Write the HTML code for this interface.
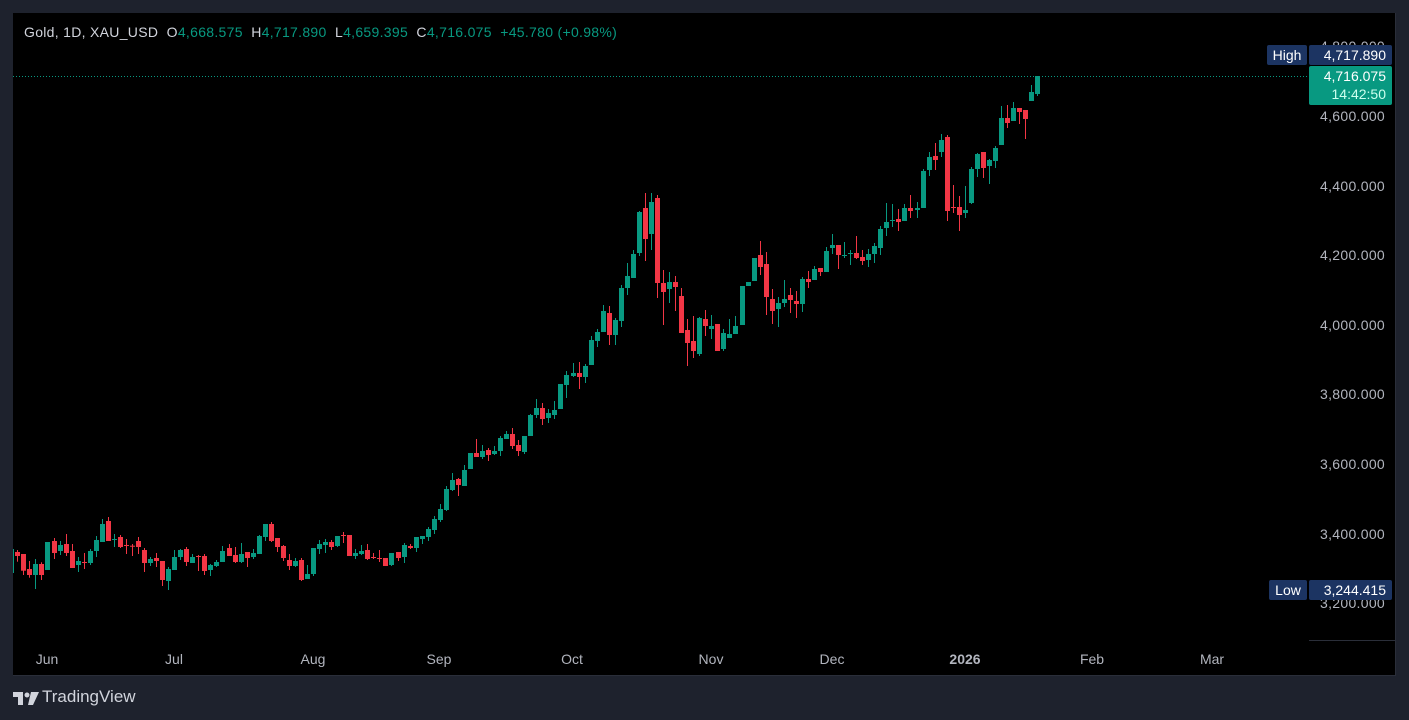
<!DOCTYPE html>
<html><head><meta charset="utf-8">
<style>
html,body{margin:0;padding:0;background:#1e222d;width:1409px;height:720px;overflow:hidden;font-family:"Liberation Sans",sans-serif}
#chart{position:absolute;left:13px;top:13px;width:1382px;height:662px;background:#000;border:1px solid #2a2e39;border-top:none;border-left:none}
.t{position:absolute;white-space:nowrap}
.pl{position:absolute;right:24px;color:#b2b5be;font-size:14px;line-height:14px;letter-spacing:0.3px}
.tl{position:absolute;top:651px;color:#b2b5be;font-size:14px;transform:translateX(-50%)}
</style></head><body>
<div id="chart"></div>
<svg id="s" width="1409" height="720" style="position:absolute;left:0;top:0"></svg>
<div class="t" style="left:24px;top:24px;font-size:14px;letter-spacing:0.3px;color:#d1d4dc">Gold, 1D, XAU_USD&nbsp; O<span style="color:#089981">4,668.575</span>&nbsp; H<span style="color:#089981">4,717.890</span>&nbsp; L<span style="color:#089981">4,659.395</span>&nbsp; C<span style="color:#089981">4,716.075</span>&nbsp; <span style="color:#089981">+45.780 (+0.98%)</span></div>
<div class="pl" style="top:39px">4,800.000</div>
<div class="pl" style="top:109px">4,600.000</div>
<div class="pl" style="top:179px">4,400.000</div>
<div class="pl" style="top:248px">4,200.000</div>
<div class="pl" style="top:318px">4,000.000</div>
<div class="pl" style="top:387px">3,800.000</div>
<div class="pl" style="top:457px">3,600.000</div>
<div class="pl" style="top:527px">3,400.000</div>
<div class="pl" style="top:596px">3,200.000</div>
<div class="t" style="left:1267px;top:45px;width:40px;height:20px;background:#1c3462;color:#fff;font-size:14px;line-height:20px;text-align:center;border-radius:2px">High</div>
<div class="t" style="left:1309px;top:45px;width:83px;height:20px;background:#1c3462;color:#fff;font-size:14px;line-height:20px;text-align:right;box-sizing:border-box;padding-right:6px;border-radius:2px">4,717.890</div>
<div class="t" style="left:1309px;top:66px;width:83px;height:39px;background:#089981;color:#fff;font-size:14px;line-height:18px;text-align:right;box-sizing:border-box;padding:1px 6px 0 0;border-radius:2px">4,716.075<br><span style="color:#cfe">14:42:50</span></div>
<div class="t" style="left:1269px;top:580px;width:38px;height:20px;background:#1c3462;color:#fff;font-size:14px;line-height:20px;text-align:center;border-radius:2px">Low</div>
<div class="t" style="left:1309px;top:580px;width:83px;height:20px;background:#1c3462;color:#fff;font-size:14px;line-height:20px;text-align:right;box-sizing:border-box;padding-right:6px;border-radius:2px">3,244.415</div>
<div class="tl" style="left:47px">Jun</div>
<div class="tl" style="left:174px">Jul</div>
<div class="tl" style="left:313px">Aug</div>
<div class="tl" style="left:439px">Sep</div>
<div class="tl" style="left:572px">Oct</div>
<div class="tl" style="left:711px">Nov</div>
<div class="tl" style="left:832px">Dec</div>
<div class="tl" style="left:965px;font-weight:bold">2026</div>
<div class="tl" style="left:1092px">Feb</div>
<div class="tl" style="left:1212px">Mar</div>
<div class="t" style="left:42px;top:687px;font-size:17px;color:#d1d4dc">TradingView</div>
<script>
var A=[[456,468,450,485,0],[462,512,462,525,0],[507,525,483,533,0],[492,525,477,567,1],[492,525,487,540,0],[426,510,426,510,1],[423,459,414,477,0],[435,453,423,465,1],[432,459,402,468,0],[453,504,432,504,0],[483,495,471,516,1],[486,489,459,507,0],[453,489,447,495,1],[420,453,408,471,1],[372,426,357,426,1],[363,423,351,423,0],[417,420,402,441,1],[411,441,405,444,0],[435,438,417,462,0],[437,440,432,468,0],[423,441,411,462,0],[450,489,444,516,0],[477,489,471,498,1],[474,483,459,501,0],[483,540,483,558,0],[507,543,501,570,1],[471,510,450,510,1],[450,471,447,480,1],[447,486,441,498,0],[471,489,462,489,1],[468,471,465,513,0],[468,513,462,525,0],[495,510,492,528,1],[486,498,480,501,1],[453,486,438,486,1],[444,468,432,468,0],[465,486,441,489,0],[462,486,429,489,1],[456,474,456,501,0],[459,471,447,477,1],[408,462,405,462,1],[372,411,372,423,1],[372,423,366,426,0],[414,441,414,456,0],[438,474,435,483,0],[480,498,462,510,0],[483,498,474,501,1],[480,540,474,543,0],[522,537,495,537,1],[444,522,444,528,1],[432,447,420,462,1],[426,435,417,459,1],[426,441,420,450,0],[408,438,408,441,1],[405,408,396,429,0],[405,468,405,468,0],[459,468,447,477,1],[453,462,435,465,1],[450,477,432,480,0],[471,474,459,477,0],[474,476,450,486,0],[474,498,474,498,0],[459,495,459,498,1],[456,474,456,483,0],[435,471,429,489,1],[438,444,432,447,0],[411,444,411,456,1],[408,417,408,432,1],[387,411,381,423,1],[357,390,348,402,1],[327,360,312,366,1],[267,330,258,333,1],[240,270,219,273,1],[237,255,234,288,0],[210,258,195,258,1],[159,207,159,207,1]];
var B=[[189,201,147,201,0],[183,201,165,207,1],[180,195,174,213,0],[183,192,168,195,1],[144,183,138,198,1],[132,147,123,147,1],[132,168,114,177,0],[165,183,150,198,0],[138,186,138,192,1],[75,138,72,138,1],[54,75,27,84,1],[54,87,39,105,0],[69,84,57,99,1],[60,75,33,87,1]];
var C=[[612,687,612,687,1],[585,615,573,654,1],[579,588,549,591,1],[579,591,546,627,0],[558,591,552,609,1],[480,555,468,555,1],[456,483,447,501,1],[393,456,375,456,1],[399,465,378,495,0],[420,465,414,495,1],[324,423,315,441,1],[288,324,249,345,1],[222,294,210,294,1],[96,219,93,228,1],[84,177,39,243,0],[66,162,39,210,1],[54,309,45,354,0],[309,336,270,435,0],[306,327,276,369,1],[306,321,288,393,0],[348,459,324,459,0],[450,489,417,558,0],[483,513,408,534,0],[414,522,411,528,1],[417,438,390,468,0],[438,447,405,477,1],[432,513,432,513,0],[459,507,447,513,1],[462,474,417,474,1],[438,462,408,462,1]];
var D=[[648,765,648,765,1],[636,648,636,648,1],[564,633,564,633,1],[555,591,513,615,0],[582,681,546,735,0],[687,723,657,762,0],[699,717,681,771,1],[687,699,630,711,1],[675,690,654,729,0],[693,702,663,744,0],[627,702,621,726,1],[627,636,603,654,0],[597,630,588,630,1],[594,606,594,618,0],[543,606,531,606,1],[525,534,492,552,1],[525,555,525,597,0],[555,558,516,564,1],[549,552,540,585,1],[549,564,498,567,0],[561,573,540,585,0],[552,570,537,591,1],[528,552,519,579,1],[477,534,468,555,1],[456,474,399,498,1],[450,453,402,471,1],[447,456,417,483,0],[414,453,402,453,1],[414,423,375,444,0],[414,420,396,444,1],[303,414,297,414,1],[261,300,246,318,1],[258,270,219,300,0],[210,246,192,261,1],[201,423,195,453,0],[411,414,345,429,0],[411,435,378,483,0],[420,429,348,444,1],[297,399,291,402,1],[252,297,249,321,1],[246,294,246,324,0],[270,288,267,342,1],[234,273,228,294,1],[144,225,108,225,1],[144,159,105,174,0],[114,153,96,153,1],[114,126,114,162,0],[120,147,120,207,0],[66,93,45,93,1],[18,72,18,78,1]];
var bars=[];
function add(arr,off){arr.forEach(function(b){bars.push([off+b[0]/3,off+b[1]/3,off+b[2]/3,off+b[3]/3,b[4]]);});}
add(A,400);add(B,390);add(C,180);add(D,70);
var h='<line x1="13" y1="76.5" x2="1308" y2="76.5" stroke="#089981" stroke-width="1" stroke-dasharray="1,2"/>';
h+='<line x1="1309" y1="640.5" x2="1395" y2="640.5" stroke="#2a2e39"/>';
h+='<rect x="13" y="549" width="1" height="24" fill="#089981"/>';
bars.forEach(function(b,i){var x=Math.round(17.3+i*6.035);var c=b[4]?'#089981':'#f23645';
var bt=Math.min(b[0],b[1]),bb=Math.max(b[0],b[1]);var hh=Math.max(1,bb-bt);
h+='<rect x="'+x+'" y="'+Math.min(b[2],bt).toFixed(1)+'" width="1" height="'+(Math.max(b[3],bb)-Math.min(b[2],bt)).toFixed(1)+'" fill="'+c+'"/>';
h+='<rect x="'+(x-2)+'" y="'+bt.toFixed(1)+'" width="5" height="'+hh.toFixed(1)+'" fill="'+c+'"/>';});
h+='<path d="M13 692h10v13h-5v-8h-5z" fill="#d1d4dc"/><circle cx="27" cy="695" r="2.5" fill="#d1d4dc"/><path d="M31 692h8l-6 13h-5z" fill="#d1d4dc"/>';
document.getElementById('s').innerHTML=h;
</script>
</body></html>
